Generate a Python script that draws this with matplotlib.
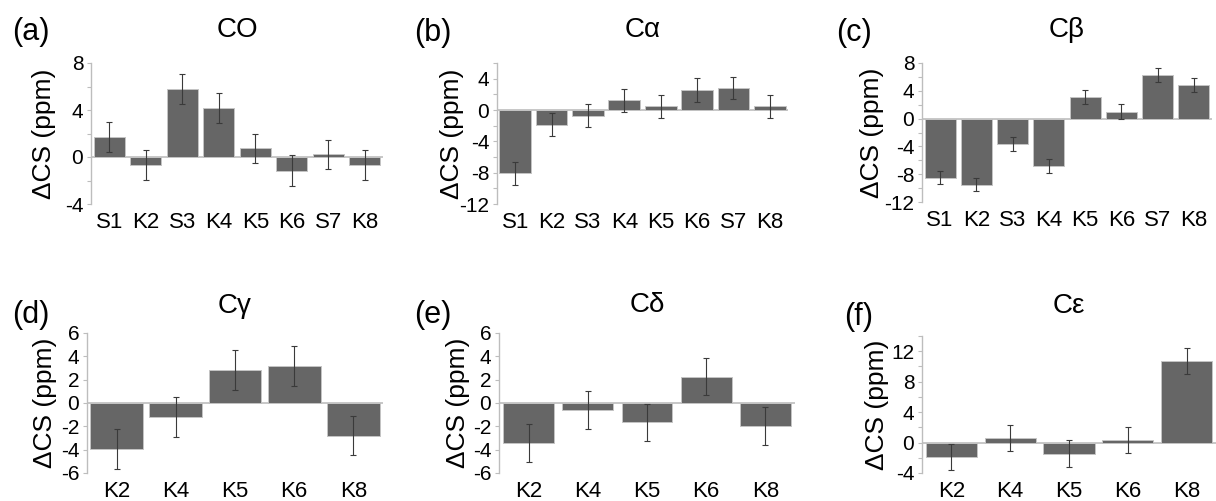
import numpy as np
import matplotlib
matplotlib.use("Agg")
import matplotlib.pyplot as plt
from matplotlib.ticker import MultipleLocator

plt.rcParams["font.family"] = ["Liberation Sans", "DejaVu Sans"]
plt.rcParams["axes.unicode_minus"] = False

# residue labels
labels_8 = ["S1", "K2", "S3", "K4", "K5", "K6", "S7", "K8"]
labels_5 = ["K2", "K4", "K5", "K6", "K8"]

# chemical shift differences (ppm) and their errors
co_vals = [1.7, -0.7, 5.8, 4.2, 0.73, -1.15, 0.22, -0.7]
co_errs = [1.27, 1.28, 1.27, 1.28, 1.25, 1.3, 1.25, 1.28]

ca_vals = [-8.1, -1.9, -0.72, 1.25, 0.48, 2.6, 2.8, 0.48]
ca_errs = [1.5, 1.48, 1.46, 1.48, 1.49, 1.54, 1.45, 1.49]

cb_vals = [-8.5, -9.5, -3.65, -6.8, 3.05, 1.0, 6.25, 4.8]
cb_errs = [0.98, 0.98, 0.98, 0.98, 1.0, 1.03, 1.02, 1.03]

cg_vals = [-3.95, -1.2, 2.85, 3.15, -2.8]
cg_errs = [1.68, 1.68, 1.72, 1.7, 1.65]

cd_vals = [-3.45, -0.6, -1.65, 2.25, -1.95]
cd_errs = [1.62, 1.6, 1.58, 1.6, 1.63]

ce_vals = [-1.85, 0.6, -1.45, 0.3, 10.7]
ce_errs = [1.72, 1.75, 1.78, 1.72, 1.75]

# letter, title, labels, values, errors, ylim, label step, bar width
panels = [
    ("(a)", "CO", labels_8, co_vals, co_errs, (-4, 8), 4, 0.85),
    ("(b)", "C\u03b1", labels_8, ca_vals, ca_errs, (-12, 6), 4, 0.87),
    ("(c)", "C\u03b2", labels_8, cb_vals, cb_errs, (-12, 8), 4, 0.85),
    ("(d)", "C\u03b3", labels_5, cg_vals, cg_errs, (-6, 6), 2, 0.89),
    ("(e)", "C\u03b4", labels_5, cd_vals, cd_errs, (-6, 6), 2, 0.86),
    ("(f)", "C\u03b5", labels_5, ce_vals, ce_errs, (-4, 14), 4, 0.87),
]

# layout in pixels: axes box (l, r, t, b), letter (x, y), ylabel x, title baseline y
layout = [
    ((91, 383, 63, 204), (12, 32), 44, 37),
    ((497, 788, 63, 204), (414, 33), 452, 37),
    ((922, 1212, 63, 202), (836, 33), 872, 37),
    ((87, 383, 333, 473), (12, 315), 45, 313),
    ((499, 795, 333, 473), (414, 315), 458, 312),
    ((922, 1216, 336, 473), (844, 317), 877, 313),
]

W, H = 1216, 501
fig = plt.figure(figsize=(W / 100, H / 100), dpi=100)

bar_color = "#666666"
axis_gray = "#bdbdbd"

for (letter, title, labels, vals, errs, ylim, step, width), \
        ((l, r, t, b), (lx, ly), yl_x, ti_y) in zip(panels, layout):
    ax = fig.add_axes([l / W, 1 - b / H, (r - l) / W, (b - t) / H])
    x = np.arange(len(labels))
    ax.bar(x, vals, width=width, color=bar_color, edgecolor="#c4c4c4", linewidth=0.7, zorder=2)
    ax.errorbar(x, vals, yerr=errs, fmt="none", ecolor="#3a3a3a", elinewidth=0.8,
                capsize=2.5, capthick=0.8, zorder=3)
    ax.axhline(0, color=axis_gray, lw=1.2, zorder=1)

    ax.set_xlim(-0.5, len(labels) - 0.5)
    ax.set_ylim(*ylim)
    ax.yaxis.set_major_locator(MultipleLocator(step))
    ax.yaxis.set_minor_locator(MultipleLocator(2))
    ax.set_xticks(x)
    ax.set_xticklabels(labels)
    ax.tick_params(axis="x", length=0, pad=6, labelsize=16)
    ax.tick_params(axis="y", which="both", direction="out", length=3, width=0.8,
                   color=axis_gray, labelsize=15, pad=2.5)

    for side in ("top", "right", "bottom"):
        ax.spines[side].set_visible(False)
    ax.spines["left"].set_color(axis_gray)
    ax.spines["left"].set_linewidth(1.0)

    fig.text((l + r) / 2 / W, 1 - ti_y / H, title, fontsize=20, ha="center", va="baseline")
    fig.text(yl_x / W, 1 - (t + b) / 2 / H, "\u0394CS (ppm)", fontsize=19,
             rotation=90, ha="center", va="center")
    fig.text(lx / W, 1 - ly / H, letter, fontsize=22, ha="left", va="center")

fig.savefig("out.png", dpi=100)
